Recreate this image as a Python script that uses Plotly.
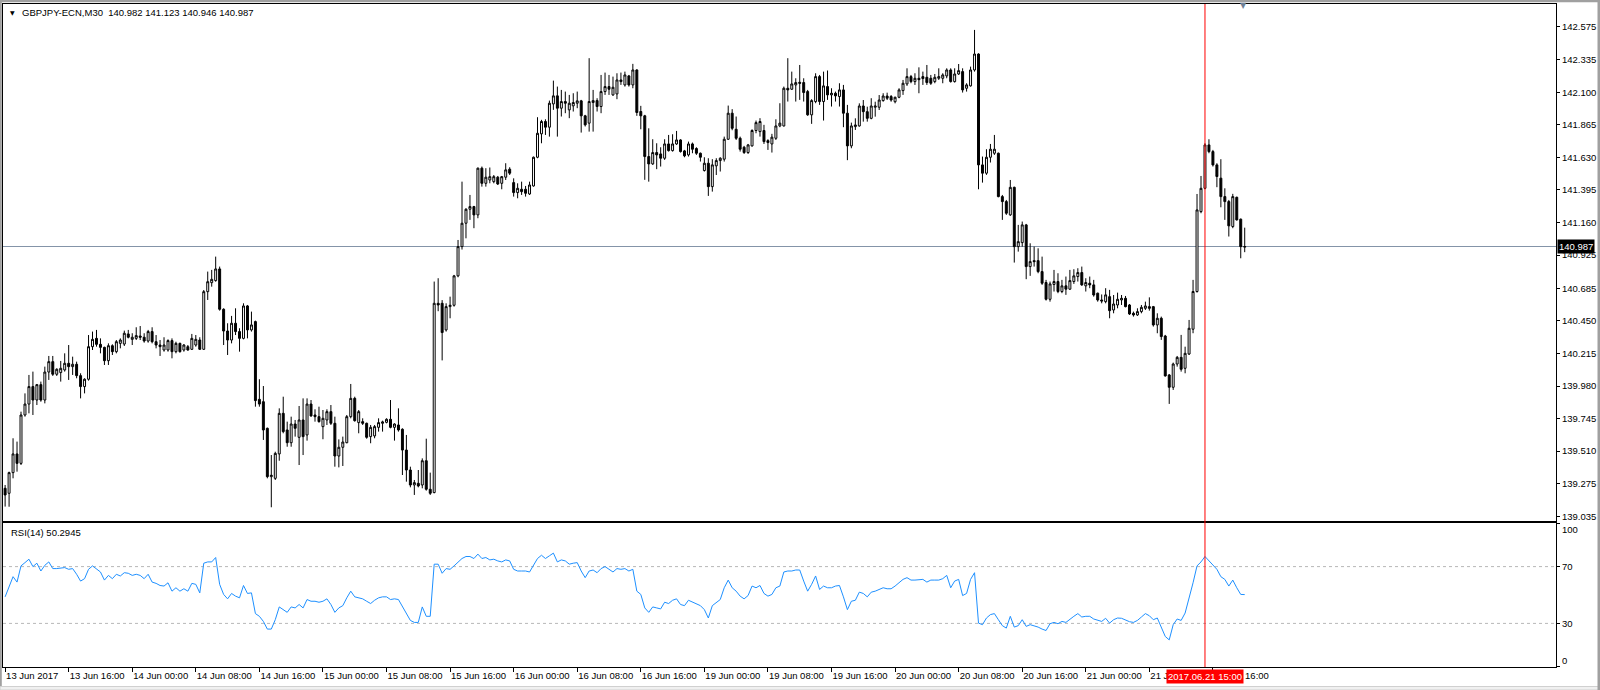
import plotly.graph_objects as go

# ---------------- data ----------------
symbol_title = "GBPJPY-ECN,M30  140.982 141.123 140.946 140.987"
rsi_title = "RSI(14) 50.2945"

open_ = [
    139.242, 139.206, 139.355, 139.490, 139.422, 139.771, 139.850, 139.976, 139.879, 139.990,
    139.879, 140.081, 140.156, 140.065, 140.077, 140.096, 140.144, 140.120, 140.137, 140.055,
    139.976, 140.029, 140.264, 140.324, 140.281, 140.259, 140.163, 140.271, 140.228, 140.288,
    140.283, 140.356, 140.317, 140.324, 140.341, 140.332, 140.305, 140.373, 140.300, 140.276,
    140.240, 140.240, 140.308, 140.228, 140.288, 140.240, 140.264, 140.245, 140.276, 140.312,
    140.245, 140.661, 140.726, 140.741, 140.825, 140.534, 140.377, 140.312, 140.433, 140.373,
    140.324, 140.558, 140.385, 140.445, 139.884, 139.867, 139.675, 139.326, 139.314, 139.490,
    139.783, 139.663, 139.571, 139.706, 139.610, 139.735, 139.627, 139.850, 139.771, 139.759,
    139.687, 139.735, 139.795, 139.711, 139.475, 139.538, 139.571, 139.759, 139.891, 139.716,
    139.723, 139.711, 139.615, 139.620, 139.682, 139.711, 139.718, 139.740, 139.682, 139.699,
    139.668, 139.518, 139.374, 139.266, 139.278, 139.266, 139.441, 139.235, 139.211, 140.577,
    140.577, 140.385, 140.553, 140.563, 140.775, 140.986, 141.155, 141.256, 141.275, 141.215,
    141.552, 141.443, 141.467, 141.455, 141.487, 141.443, 141.487, 141.545, 141.448, 141.376,
    141.400, 141.400, 141.366, 141.424, 141.631, 141.800, 141.889, 141.848, 142.016, 142.074,
    141.985, 142.033, 141.973, 142.002, 142.021, 142.038, 141.930, 141.877, 142.026, 142.040,
    141.997, 142.105, 142.141, 142.081, 142.088, 142.189, 142.153, 142.218, 142.153, 142.261,
    141.961, 141.930, 141.636, 141.583, 141.665, 141.655, 141.624, 141.727, 141.679, 141.727,
    141.756, 141.677, 141.648, 141.727, 141.694, 141.660, 141.535, 141.588, 141.419, 141.569,
    141.607, 141.617, 141.761, 141.949, 141.833, 141.768, 141.703, 141.665, 141.713, 141.824,
    141.816, 141.824, 141.751, 141.727, 141.768, 141.857, 141.857, 142.129, 142.122, 142.153,
    142.172, 142.170, 142.105, 141.937, 142.033, 142.213, 142.033, 142.141, 142.081, 142.093,
    142.069, 142.117, 141.949, 141.713, 141.852, 141.857, 142.001, 141.960, 141.912, 141.992,
    141.992, 142.040, 142.073, 142.069, 142.032, 142.064, 142.112, 142.160, 142.213, 142.177,
    142.201, 142.213, 142.208, 142.201, 142.177, 142.201, 142.201, 142.218, 142.261, 142.177,
    142.232, 142.249, 142.129, 142.146, 142.261, 142.376, 141.576, 141.516, 141.631, 141.660,
    141.660, 141.347, 141.311, 141.215, 141.414, 140.986, 141.015, 141.143, 140.842, 140.885,
    140.885, 140.806, 140.727, 140.606, 140.713, 140.734, 140.662, 140.703, 140.679, 140.734,
    140.770, 140.799, 140.703, 140.722, 140.710, 140.650, 140.601, 140.589, 140.625, 140.529,
    140.565, 140.601, 140.613, 140.565, 140.505, 140.493, 140.517, 140.541, 140.553, 140.553,
    140.421, 140.469, 140.341, 140.060, 139.971, 140.139, 140.187, 140.108, 140.211, 140.390,
    140.662, 141.239, 141.407, 141.720, 141.672, 141.576, 141.480, 141.347, 141.311, 141.131,
    141.342, 141.184, 140.982,
]

high = [
    139.266, 139.362, 139.603, 139.579, 139.795, 139.927, 140.060, 140.084, 139.995, 140.012,
    140.120, 140.197, 140.197, 140.108, 140.161, 140.216, 140.276, 140.192, 140.156, 140.072,
    140.036, 140.348, 140.373, 140.385, 140.324, 140.264, 140.288, 140.281, 140.312, 140.324,
    140.380, 140.385, 140.361, 140.404, 140.413, 140.361, 140.385, 140.404, 140.348, 140.312,
    140.332, 140.317, 140.324, 140.300, 140.293, 140.283, 140.276, 140.356, 140.348, 140.332,
    140.673, 140.806, 140.818, 140.914, 140.842, 140.541, 140.433, 140.486, 140.541, 140.397,
    140.577, 140.565, 140.517, 140.452, 140.029, 139.980, 139.680, 139.482, 139.506, 139.819,
    139.903, 139.723, 139.759, 139.735, 139.836, 139.891, 139.891, 139.879, 139.812, 139.831,
    139.807, 139.812, 139.843, 139.759, 139.595, 139.615, 139.771, 139.995, 139.903, 139.807,
    139.747, 139.716, 139.699, 139.699, 139.747, 139.730, 139.747, 139.879, 139.711, 139.819,
    139.675, 139.627, 139.398, 139.302, 139.374, 139.458, 139.600, 139.355, 140.734, 140.758,
    140.600, 140.577, 140.625, 140.782, 141.034, 141.455, 141.263, 141.359, 141.280, 141.557,
    141.564, 141.552, 141.557, 141.503, 141.496, 141.496, 141.588, 141.559, 141.479, 141.443,
    141.455, 141.424, 141.455, 141.636, 141.920, 141.901, 141.905, 142.040, 142.184, 142.141,
    142.117, 142.105, 142.081, 142.093, 142.105, 142.045, 141.937, 142.346, 142.117, 142.057,
    142.225, 142.242, 142.225, 142.213, 142.237, 142.242, 142.249, 142.225, 142.305, 142.266,
    142.002, 141.937, 141.840, 141.761, 141.732, 141.703, 141.761, 141.792, 141.797, 141.821,
    141.761, 141.684, 141.744, 141.737, 141.703, 141.665, 141.631, 141.624, 141.617, 141.624,
    141.631, 141.780, 142.004, 141.978, 141.925, 141.780, 141.713, 141.727, 141.833, 141.896,
    141.913, 141.865, 141.761, 141.800, 141.905, 142.021, 142.141, 142.346, 142.249, 142.201,
    142.297, 142.201, 142.117, 142.050, 142.237, 142.225, 142.249, 142.257, 142.129, 142.105,
    142.165, 142.153, 142.009, 141.881, 141.912, 142.020, 142.044, 141.996, 142.057, 142.032,
    142.080, 142.093, 142.097, 142.080, 142.068, 142.129, 142.189, 142.273, 142.225, 142.237,
    142.280, 142.249, 142.297, 142.225, 142.232, 142.273, 142.237, 142.273, 142.273, 142.273,
    142.304, 142.273, 142.165, 142.285, 142.550, 142.381, 141.636, 141.689, 141.727, 141.792,
    141.665, 141.359, 141.323, 141.467, 141.419, 141.143, 141.167, 141.150, 141.010, 140.986,
    140.974, 140.914, 140.746, 140.734, 140.818, 140.794, 140.746, 140.770, 140.818, 140.823,
    140.830, 140.842, 140.758, 140.770, 140.746, 140.654, 140.641, 140.686, 140.674, 140.637,
    140.654, 140.637, 140.630, 140.572, 140.517, 140.541, 140.565, 140.589, 140.620, 140.558,
    140.505, 140.481, 140.349, 140.067, 140.149, 140.197, 140.349, 140.264, 140.457, 140.746,
    141.366, 141.496, 141.732, 141.761, 141.684, 141.588, 141.617, 141.407, 141.323, 141.367,
    141.347, 141.189, 141.123,
]

low = [
    139.110, 139.109, 139.314, 139.362, 139.410, 139.759, 139.783, 139.771, 139.843, 139.867,
    139.855, 140.024, 140.053, 140.053, 140.012, 140.084, 140.024, 140.060, 140.036, 139.891,
    139.927, 140.019, 140.240, 140.264, 140.216, 140.132, 140.132, 140.204, 140.216, 140.252,
    140.269, 140.324, 140.276, 140.312, 140.312, 140.293, 140.293, 140.288, 140.252, 140.197,
    140.228, 140.228, 140.180, 140.216, 140.221, 140.228, 140.235, 140.240, 140.264, 140.240,
    140.240, 140.601, 140.697, 140.733, 140.524, 140.276, 140.204, 140.288, 140.348, 140.228,
    140.317, 140.324, 140.373, 139.831, 139.831, 139.591, 139.314, 139.105, 139.302, 139.441,
    139.639, 139.542, 139.542, 139.615, 139.410, 139.482, 139.586, 139.759, 139.723, 139.716,
    139.596, 139.699, 139.699, 139.398, 139.393, 139.403, 139.567, 139.747, 139.723, 139.639,
    139.699, 139.600, 139.567, 139.603, 139.651, 139.651, 139.711, 139.675, 139.586, 139.651,
    139.338, 139.290, 139.249, 139.194, 139.249, 139.242, 139.225, 139.194, 139.206, 140.520,
    140.165, 140.373, 140.469, 140.553, 140.765, 140.965, 141.046, 141.179, 141.119, 141.191,
    141.419, 141.419, 141.443, 141.443, 141.431, 141.400, 141.467, 141.503, 141.347, 141.335,
    141.359, 141.347, 141.359, 141.419, 141.624, 141.732, 141.792, 141.780, 141.973, 141.780,
    141.925, 141.949, 141.913, 141.961, 141.985, 141.809, 141.853, 141.816, 141.816, 141.961,
    141.949, 142.081, 142.081, 142.074, 142.050, 142.153, 142.141, 142.141, 142.129, 141.930,
    141.833, 141.468, 141.455, 141.576, 141.545, 141.564, 141.612, 141.672, 141.672, 141.720,
    141.665, 141.631, 141.636, 141.660, 141.648, 141.600, 141.528, 141.352, 141.383, 141.503,
    141.528, 141.600, 141.756, 141.826, 141.756, 141.672, 141.655, 141.655, 141.708, 141.804,
    141.780, 141.727, 141.684, 141.665, 141.756, 141.848, 141.853, 142.033, 142.117, 142.033,
    142.045, 142.033, 141.930, 141.872, 142.021, 142.009, 141.896, 142.045, 141.997, 142.033,
    141.997, 141.848, 141.610, 141.696, 141.828, 141.852, 141.888, 141.888, 141.905, 141.924,
    141.972, 142.032, 142.044, 142.032, 142.020, 142.057, 142.081, 142.146, 142.165, 142.153,
    142.093, 142.153, 142.153, 142.153, 142.165, 142.189, 142.165, 142.201, 142.170, 142.170,
    142.225, 142.098, 142.105, 142.141, 142.249, 141.400, 141.448, 141.504, 141.593, 141.648,
    141.342, 141.179, 141.215, 141.208, 140.871, 140.950, 140.986, 140.751, 140.775, 140.842,
    140.794, 140.710, 140.597, 140.589, 140.662, 140.650, 140.650, 140.638, 140.674, 140.717,
    140.734, 140.703, 140.662, 140.686, 140.625, 140.589, 140.577, 140.577, 140.469, 140.505,
    140.541, 140.565, 140.548, 140.493, 140.481, 140.486, 140.505, 140.529, 140.524, 140.409,
    140.361, 140.313, 140.048, 139.851, 139.952, 140.120, 140.084, 140.072, 140.204, 140.361,
    140.654, 141.227, 141.400, 141.660, 141.564, 141.415, 141.270, 141.179, 141.059, 141.119,
    141.174, 140.902, 140.946,
]

close = [
    139.194, 139.355, 139.490, 139.422, 139.771, 139.850, 139.976, 139.879, 139.990, 139.879,
    140.081, 140.156, 140.065, 140.101, 140.108, 140.144, 140.120, 140.137, 140.055, 139.976,
    140.029, 140.264, 140.317, 140.281, 140.259, 140.163, 140.271, 140.228, 140.300, 140.312,
    140.361, 140.332, 140.332, 140.344, 140.332, 140.305, 140.373, 140.300, 140.276, 140.264,
    140.276, 140.308, 140.228, 140.288, 140.228, 140.276, 140.240, 140.324, 140.317, 140.245,
    140.661, 140.733, 140.750, 140.825, 140.534, 140.377, 140.312, 140.433, 140.373, 140.324,
    140.558, 140.385, 140.421, 139.875, 139.850, 139.663, 139.326, 139.336, 139.494, 139.783,
    139.651, 139.571, 139.706, 139.675, 139.735, 139.615, 139.850, 139.764, 139.759, 139.723,
    139.747, 139.795, 139.711, 139.475, 139.538, 139.576, 139.759, 139.891, 139.730, 139.795,
    139.711, 139.610, 139.682, 139.687, 139.716, 139.721, 139.740, 139.682, 139.706, 139.663,
    139.518, 139.374, 139.266, 139.283, 139.259, 139.441, 139.235, 139.206, 140.577, 140.565,
    140.366, 140.553, 140.563, 140.775, 140.986, 141.155, 141.256, 141.275, 141.215, 141.552,
    141.443, 141.487, 141.491, 141.491, 141.438, 141.491, 141.540, 141.516, 141.376, 141.407,
    141.383, 141.371, 141.431, 141.631, 141.804, 141.889, 141.848, 142.021, 142.074, 141.985,
    142.033, 142.021, 142.021, 142.026, 142.038, 141.930, 141.865, 142.033, 142.040, 141.997,
    142.105, 142.141, 142.122, 142.136, 142.189, 142.177, 142.225, 142.153, 142.261, 141.954,
    141.930, 141.636, 141.583, 141.665, 141.648, 141.624, 141.727, 141.679, 141.727, 141.756,
    141.672, 141.641, 141.727, 141.689, 141.660, 141.631, 141.588, 141.419, 141.576, 141.607,
    141.624, 141.761, 141.949, 141.840, 141.768, 141.689, 141.665, 141.720, 141.824, 141.881,
    141.889, 141.744, 141.737, 141.776, 141.857, 141.877, 142.129, 142.117, 142.160, 142.170,
    142.165, 142.098, 141.937, 142.040, 142.213, 142.033, 142.146, 142.081, 142.093, 142.074,
    142.117, 141.949, 141.713, 141.857, 141.864, 142.001, 141.960, 141.912, 142.001, 142.001,
    142.044, 142.073, 142.057, 142.044, 142.064, 142.117, 142.165, 142.213, 142.177, 142.201,
    142.191, 142.199, 142.170, 142.165, 142.208, 142.213, 142.225, 142.261, 142.177, 142.232,
    142.256, 142.117, 142.153, 142.261, 142.376, 141.576, 141.516, 141.631, 141.689, 141.689,
    141.347, 141.311, 141.227, 141.414, 140.986, 141.022, 141.143, 140.842, 140.878, 140.878,
    140.806, 140.722, 140.606, 140.717, 140.734, 140.662, 140.703, 140.679, 140.741, 140.775,
    140.799, 140.710, 140.727, 140.710, 140.637, 140.601, 140.594, 140.638, 140.524, 140.572,
    140.606, 140.613, 140.553, 140.500, 140.493, 140.517, 140.548, 140.558, 140.541, 140.421,
    140.469, 140.337, 140.053, 139.971, 140.139, 140.187, 140.101, 140.216, 140.397, 140.662,
    141.251, 141.407, 141.720, 141.672, 141.576, 141.492, 141.347, 141.311, 141.136, 141.347,
    141.179, 140.986, 140.987,
]

rsi = [
    48.7, 56.3, 62.9, 59.1, 70.5, 72.8, 75.2, 70.0, 72.4, 66.9,
    70.9, 73.3, 68.6, 68.6, 69.1, 69.3, 68.1, 68.6, 64.6, 59.8,
    61.5, 68.1, 70.5, 68.6, 66.2, 60.5, 63.8, 61.5, 64.6, 63.4,
    65.7, 65.3, 63.8, 64.6, 63.8, 61.5, 64.6, 59.1, 58.2, 56.7,
    56.3, 58.6, 52.7, 55.1, 52.7, 54.4, 52.7, 58.2, 57.5, 51.5,
    72.4, 73.3, 73.3, 76.4, 57.5, 50.4, 47.3, 51.1, 49.2, 48.0,
    56.7, 51.1, 51.5, 36.9, 35.0, 31.4, 26.0, 26.0, 32.6, 41.6,
    39.7, 37.8, 41.6, 40.9, 43.3, 40.9, 46.8, 45.6, 45.6, 44.9,
    45.6, 47.3, 43.3, 37.8, 40.9, 42.5, 48.0, 52.7, 48.7, 48.0,
    47.3, 45.6, 44.0, 46.3, 48.0, 48.7, 48.7, 46.8, 47.3, 46.8,
    41.6, 36.2, 32.1, 30.7, 30.7, 41.6, 35.0, 35.0, 71.7, 71.7,
    65.3, 68.6, 68.1, 70.5, 73.3, 75.7, 77.1, 77.1, 75.7, 78.8,
    75.7, 76.4, 74.7, 75.2, 74.0, 73.3, 74.7, 74.0, 68.1, 66.9,
    66.9, 66.9, 66.2, 70.5, 75.7, 78.0, 75.7, 77.6, 79.5, 73.3,
    74.7, 74.0, 71.7, 72.4, 72.8, 66.9, 62.2, 66.9, 67.6, 65.7,
    68.6, 70.0, 68.1, 66.2, 68.6, 68.1, 68.6, 66.9, 68.1, 52.7,
    50.4, 40.9, 37.8, 41.6, 40.9, 40.2, 44.9, 44.0, 46.3, 47.3,
    43.3, 42.5, 46.3, 44.9, 44.0, 42.5, 39.7, 33.8, 42.5, 44.9,
    46.8, 55.1, 60.5, 55.1, 52.7, 49.2, 47.3, 49.6, 56.3, 55.1,
    56.7, 51.1, 49.2, 50.4, 55.1, 56.3, 66.2, 66.9, 66.9, 67.6,
    67.6, 59.8, 52.7, 57.5, 63.4, 53.9, 56.3, 55.1, 55.1, 56.3,
    56.7, 48.7, 39.7, 45.6, 46.3, 52.0, 51.1, 48.7, 52.0, 52.7,
    53.9, 55.1, 54.4, 54.4, 56.3, 58.6, 61.0, 62.2, 60.5, 60.5,
    60.5, 61.0, 59.1, 60.5, 60.5, 60.5, 61.5, 63.8, 55.1, 59.8,
    61.0, 49.6, 51.1, 61.0, 65.7, 30.2, 29.1, 33.8, 36.2, 36.9,
    32.6, 28.4, 26.7, 35.0, 27.4, 28.4, 32.6, 27.9, 29.1, 28.4,
    27.4, 26.0, 25.0, 29.8, 30.7, 29.8, 31.4, 30.7, 33.1, 35.0,
    36.9, 34.5, 35.0, 35.0, 33.1, 32.1, 31.4, 33.6, 30.2, 32.6,
    33.8, 33.6, 32.1, 31.2, 30.7, 32.1, 34.5, 36.9, 35.4, 32.6,
    33.8, 27.9, 20.8, 18.4, 29.1, 33.1, 32.1, 37.3, 47.3, 58.6,
    70.5, 73.3, 77.1, 74.0, 70.5, 68.1, 62.9, 61.0, 56.3, 60.5,
    55.1, 50.4, 50.29,
]

time_tick_bars = [0, 16, 32, 48, 64, 80, 96, 112, 128, 144,
                  160, 176, 192, 208, 224, 240, 256, 272, 288, 304]
time_tick_labels = ["13 Jun 2017", "13 Jun 16:00", "14 Jun 00:00", "14 Jun 08:00",
                    "14 Jun 16:00", "15 Jun 00:00", "15 Jun 08:00", "15 Jun 16:00",
                    "16 Jun 00:00", "16 Jun 08:00", "16 Jun 16:00", "19 Jun 00:00",
                    "19 Jun 08:00", "19 Jun 16:00", "20 Jun 00:00", "20 Jun 08:00",
                    "20 Jun 16:00", "21 Jun 00:00", "21 Jun 08:00", "21 Jun 16:00"]
price_tick_labels = ["142.575", "142.335", "142.100", "141.865", "141.630", "141.395",
                     "141.160", "140.925", "140.685", "140.450", "140.215", "139.980",
                     "139.745", "139.510", "139.275", "139.035"]
rsi_tick_values = [100, 70, 30, 0]
rsi_levels = [70, 30]
current_price = 140.987
cursor_bar = 302
cursor_label = "2017.06.21 15:00"

bars = list(range(len(close)))

# ---------------- layout geometry (pixels) ----------------
W, H = 1600, 690
PL, PR, PT, PB = 3, 1556, 4, 667          # plot area
MAIN_BOTTOM, RSI_TOP = 521, 523
PW, PH = PR - PL, PB - PT


def px(x):
    return (x - PL) / PW


def py(y):
    return (PB - y) / PH


FONT = "Liberation Sans, Arial, sans-serif"
FS = 9.5

fig = go.Figure()
fig.add_trace(go.Candlestick(
    x=bars, open=open_, high=high, low=low, close=close,
    increasing=dict(line=dict(color="black", width=1), fillcolor="white"),
    decreasing=dict(line=dict(color="black", width=1), fillcolor="black"),
    whiskerwidth=0, xaxis="x", yaxis="y", showlegend=False, hoverinfo="skip",
))
fig.add_trace(go.Scatter(
    x=bars, y=rsi, mode="lines", line=dict(color="#1e90ff", width=1),
    xaxis="x2", yaxis="y2", showlegend=False, hoverinfo="skip",
))

xrange = [-0.53, 390.35]
axis_common = dict(showgrid=False, zeroline=False, showline=True, mirror=True,
                   linecolor="black", linewidth=1, automargin=False)

fig.update_layout(
    width=W, height=H,
    margin=dict(l=PL, r=W - PR, t=PT, b=H - PB, pad=0, autoexpand=False),
    paper_bgcolor="white", plot_bgcolor="white",
    font=dict(family=FONT, size=FS, color="black"),
    showlegend=False,
    xaxis=dict(domain=[0, 1], anchor="y", range=xrange, showticklabels=False,
               ticks="", rangeslider=dict(visible=False), **axis_common),
    yaxis=dict(domain=[py(MAIN_BOTTOM), 1], anchor="x", side="right",
               range=[139.006, 142.737],
               tickvals=[float(t) for t in price_tick_labels], ticktext=price_tick_labels,
               ticks="outside", ticklen=3, tickcolor="black", tickwidth=1,
               tickfont=dict(family=FONT, size=FS, color="black"), **axis_common),
    xaxis2=dict(domain=[0, 1], anchor="y2", range=xrange, matches="x",
                tickvals=time_tick_bars, ticktext=time_tick_labels, tickangle=0,
                ticks="outside", ticklen=4, tickcolor="black", tickwidth=1,
                ticklabelposition="outside right",
                tickfont=dict(family=FONT, size=FS, color="black"), **axis_common),
    yaxis2=dict(domain=[0, py(RSI_TOP)], anchor="x2", side="right",
                range=[-0.7, 100.7], tickvals=rsi_tick_values,
                ticktext=["", "70", "30", ""],
                ticks="outside", ticklen=3, tickcolor="black", tickwidth=1,
                tickfont=dict(family=FONT, size=FS, color="black"), **axis_common),
)

shapes = []
# current bid line
shapes.append(dict(type="line", xref="paper", yref="y", x0=0, x1=1,
                   y0=current_price, y1=current_price,
                   line=dict(color="#8494a8", width=1), layer="below"))
# RSI level lines
for lv in rsi_levels:
    shapes.append(dict(type="line", xref="paper", yref="y2", x0=0, x1=1, y0=lv, y1=lv,
                       line=dict(color="#b8b8b8", width=1, dash="3px,3px"), layer="below"))
# cursor vertical line
shapes.append(dict(type="line", xref="x", yref="paper", x0=cursor_bar, x1=cursor_bar,
                   y0=0, y1=1, line=dict(color="red", width=1), layer="above"))
# window chrome
shapes.append(dict(type="rect", xref="paper", yref="paper", x0=px(0), x1=px(W),
                   y0=py(0), y1=py(2.2), fillcolor="#a0a0a0", line=dict(width=0)))
shapes.append(dict(type="rect", xref="paper", yref="paper", x0=px(0), x1=px(1.8),
                   y0=py(0), y1=py(H), fillcolor="#a0a0a0", line=dict(width=0)))
shapes.append(dict(type="rect", xref="paper", yref="paper", x0=px(0), x1=px(W),
                   y0=py(686.5), y1=py(H), fillcolor="#f0f0f0",
                   line=dict(color="#d0d0d0", width=1)))
shapes.append(dict(type="rect", xref="paper", yref="paper", x0=px(1597.5), x1=px(W),
                   y0=py(0), y1=py(H), fillcolor="#a0a0a0", line=dict(width=0)))
fig.update_layout(shapes=shapes)

annotations = [
    dict(text="▼", xref="paper", yref="paper", x=px(12.5), y=py(12.5),
         xanchor="center", yanchor="middle", showarrow=False,
         font=dict(family="DejaVu Sans", size=6, color="black")),
    dict(text=symbol_title, xref="paper", yref="paper", x=px(19.5), y=py(12.8),
         xanchor="left", yanchor="middle", showarrow=False,
         font=dict(family=FONT, size=FS, color="black")),
    dict(text=rsi_title, xref="paper", yref="paper", x=px(8.5), y=py(532),
         xanchor="left", yanchor="middle", showarrow=False,
         font=dict(family=FONT, size=FS, color="black")),
    dict(text="100", xref="paper", yref="paper", x=px(1559.5), y=py(529.5),
         xanchor="left", yanchor="middle", showarrow=False,
         font=dict(family=FONT, size=FS, color="black")),
    dict(text="0", xref="paper", yref="paper", x=px(1559.5), y=py(660),
         xanchor="left", yanchor="middle", showarrow=False,
         font=dict(family=FONT, size=FS, color="black")),
    dict(text=f"{current_price:.3f}", xref="paper", yref="y", x=px(1557), y=current_price,
         xanchor="left", yanchor="middle", showarrow=False, bgcolor="black",
         borderpad=1, font=dict(family=FONT, size=FS, color="white")),
    dict(text=cursor_label, xref="x", yref="paper", x=cursor_bar, y=py(676.5),
         xanchor="center", yanchor="middle", showarrow=False, bgcolor="red",
         borderpad=1, font=dict(family=FONT, size=FS, color="white")),
    dict(text="▼", xref="paper", yref="paper", x=px(1243), y=py(6),
         xanchor="center", yanchor="middle", showarrow=False,
         font=dict(family="DejaVu Sans", size=8, color="#6f8196")),
]
fig.update_layout(annotations=annotations)

fig.write_html("out.html",
               config={"displayModeBar": False},
               post_script="document.body.style.margin='0';document.body.style.overflow='hidden';")
